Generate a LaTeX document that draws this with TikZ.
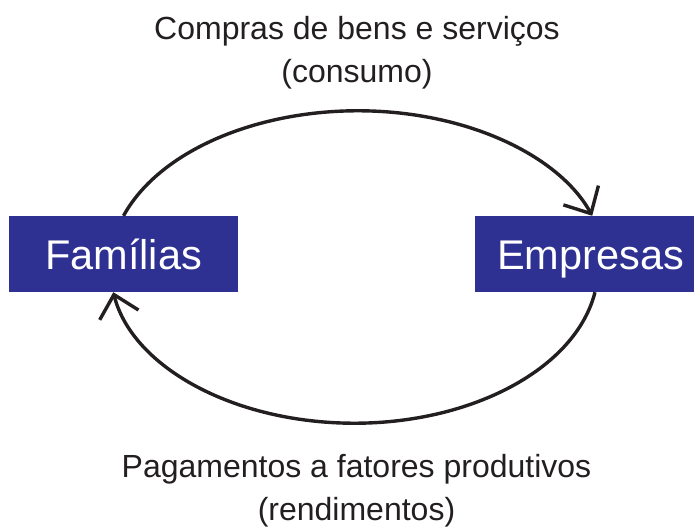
\documentclass[tikz,border=0pt]{standalone}
\usepackage{fontspec}
\setmainfont{Liberation Sans}
\usetikzlibrary{arrows.meta}
\definecolor{boxblue}{HTML}{2E3192}
\definecolor{ink}{HTML}{231F20}
\begin{document}
\begin{tikzpicture}[x=1pt,y=1pt,
  agent/.style={fill=boxblue, text=white, inner sep=0pt, minimum height=76pt,
    text height=32pt, text depth=0pt, font=\fontsize{41.5}{48}\selectfont},
  flowlabel/.style={text=ink, inner sep=0pt, anchor=base, font=\fontsize{32}{38}\selectfont},
  flow/.style={draw=ink, line width=3.4pt, -{Straight Barb[length=21pt,width=40pt]}}]
\useasboundingbox (0,0) rectangle (694,528);
\node[agent, minimum width=229pt] (fam) at (123.5,274) {Famílias};
\node[agent, minimum width=231pt] (emp) at (590.5,274) {Empresas};
\node[flowlabel] (t1) at (357,488.5) {Compras de bens e serviços};
\node[flowlabel] (t2) at (357,445) {(consumo)};
\node[flowlabel] (b1) at (356.5,50) {Pagamentos a fatores produtivos};
\node[flowlabel] (b2) at (356.5,8) {(rendimentos)};
\coordinate (eb) at ([xshift=4.5pt]emp.south);
\draw[flow] (fam.north) arc[start angle=160.91, end angle=19.09, x radius=248, y radius=156];
\draw[flow] (eb) arc[start angle=-9.22, end angle=-170.78, x radius=244, y radius=156];
\end{tikzpicture}
\end{document}
